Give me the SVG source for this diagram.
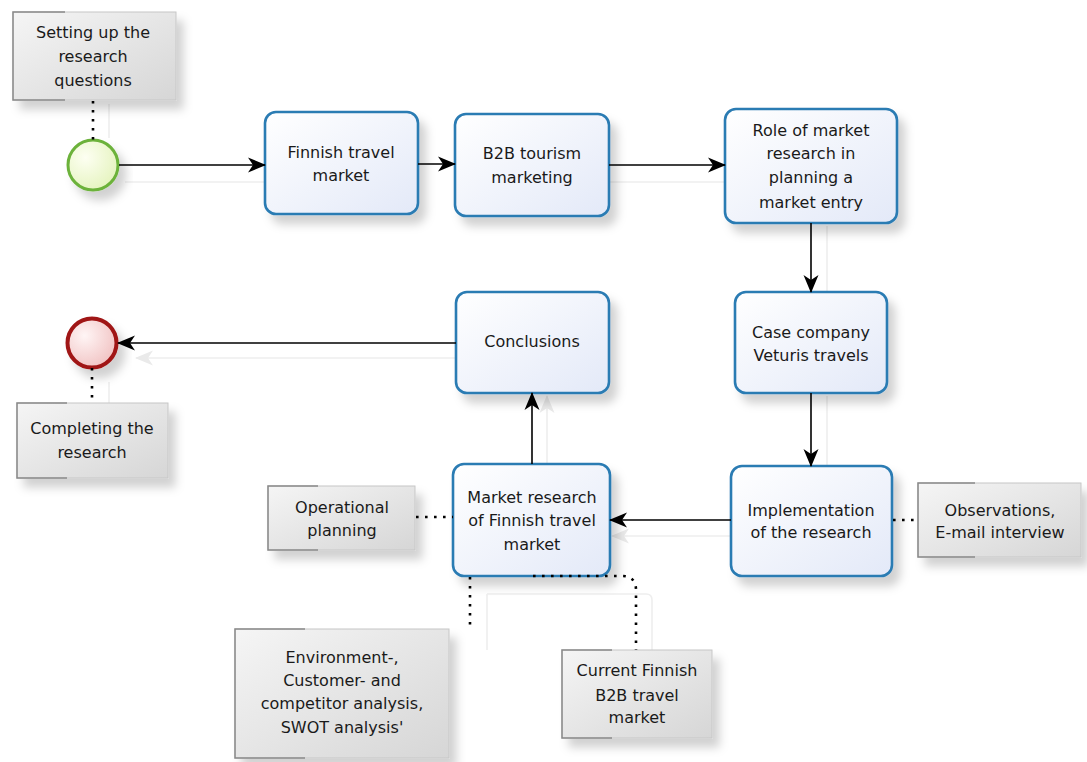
<svg xmlns="http://www.w3.org/2000/svg" width="1087" height="762" viewBox="0 0 1087 762">
<style>
text{font-family:"DejaVu Sans","Liberation Sans",sans-serif;font-size:16px;fill:#1a1a1a;text-anchor:middle}
.task{fill:url(#gTask);stroke:#2c7bb3;stroke-width:2.6;filter:url(#sh)}
.ann{fill:url(#gAnn);stroke:#c6c6c6;stroke-width:1;filter:url(#sh)}
.annl{fill:none;stroke:#8a8a8a;stroke-width:1.5}
.flow{fill:none;stroke:#000;stroke-width:1.6;marker-end:url(#arr)}
.ghost{fill:none;stroke:#eeeeee;stroke-width:1.6}
.assoc{fill:none;stroke:#000;stroke-width:2.6;stroke-dasharray:2.6 6.4}
</style>
<defs>
<linearGradient id="gTask" x1="0" y1="0" x2="1" y2="1"><stop offset="0" stop-color="#ffffff"/><stop offset="1" stop-color="#e3e9f8"/></linearGradient>
<linearGradient id="gAnn" x1="0" y1="0" x2="1" y2="1"><stop offset="0" stop-color="#f5f5f5"/><stop offset="1" stop-color="#d6d6d6"/></linearGradient>
<radialGradient id="gStart" cx="0.35" cy="0.35" r="0.8"><stop offset="0" stop-color="#fdfff2"/><stop offset="1" stop-color="#e2f2b8"/></radialGradient>
<radialGradient id="gEnd" cx="0.35" cy="0.35" r="0.8"><stop offset="0" stop-color="#fff5f5"/><stop offset="1" stop-color="#efbcbc"/></radialGradient>
<filter id="sh" x="-20%" y="-20%" width="150%" height="160%"><feDropShadow dx="7" dy="9" stdDeviation="5" flood-color="#000" flood-opacity="0.18"/></filter>
<marker id="arr" viewBox="0 0 18 16" refX="17" refY="8" markerWidth="18" markerHeight="16" markerUnits="userSpaceOnUse" orient="auto"><path d="M0,0.5 L18,8 L0,15.5 L5,8 z" fill="#000"/></marker>
<marker id="garr" viewBox="0 0 18 16" refX="17" refY="8" markerWidth="18" markerHeight="16" markerUnits="userSpaceOnUse" orient="auto"><path d="M0,0.5 L18,8 L0,15.5 L5,8 z" fill="#eaeaea"/></marker>
</defs>

<g id="ghosts">
<path class="ghost" d="M125,182 H265"/>
<path class="ghost" d="M609,182 H725"/>
<path class="ghost" d="M827,226 V292"/>
<path class="ghost" d="M827,396 V466"/>
<path class="ghost" d="M731,536 H612" marker-end="url(#garr)"/>
<path class="ghost" d="M547,464 V396" marker-end="url(#garr)"/>
<path class="ghost" d="M456,358 H136" marker-end="url(#garr)"/>
<path class="ghost" d="M109,104 V138"/>
<path class="ghost" d="M109,382 V403"/>
<path class="ghost" d="M487,594 V650"/>
<path class="ghost" d="M487,594 H646 Q652,594 652,600 V650"/>
</g>

<g id="start"><circle cx="93" cy="165" r="25" fill="url(#gStart)" stroke="#6cb23a" stroke-width="3" filter="url(#sh)"/></g>
<g id="end"><circle cx="92" cy="343" r="24.5" fill="url(#gEnd)" stroke="#a01414" stroke-width="4" filter="url(#sh)"/></g>

<g id="ann-setting">
<rect class="ann" x="13" y="12" width="163" height="88"/>
<path class="annl" d="M65,12 H13 V100 H65"/>
<text x="93" y="38">Setting up the</text><text x="93" y="62">research</text><text x="93" y="86">questions</text>
</g>

<g id="task-finnish">
<rect class="task" x="265" y="112" width="153" height="102" rx="11"/>
<text x="341" y="158">Finnish travel</text><text x="341" y="181">market</text>
</g>

<g id="task-b2b">
<rect class="task" x="455" y="114" width="154" height="102" rx="11"/>
<text x="532" y="159">B2B tourism</text><text x="532" y="183">marketing</text>
</g>

<g id="task-role">
<rect class="task" x="725" y="109" width="172" height="114" rx="11"/>
<text x="811" y="136">Role of market</text><text x="811" y="159">research in</text><text x="811" y="183">planning a</text><text x="811" y="208">market entry</text>
</g>

<g id="task-case">
<rect class="task" x="735" y="292" width="152" height="101" rx="11"/>
<text x="811" y="338">Case company</text><text x="811" y="361">Veturis travels</text>
</g>

<g id="task-conclusions">
<rect class="task" x="456" y="292" width="153" height="101" rx="11"/>
<text x="532" y="347">Conclusions</text>
</g>

<g id="task-implementation">
<rect class="task" x="731" y="466" width="161" height="110" rx="11"/>
<text x="811" y="516">Implementation</text><text x="811" y="538">of the research</text>
</g>

<g id="task-market-research">
<rect class="task" x="453" y="464" width="157" height="112" rx="11"/>
<text x="532" y="503">Market research</text><text x="532" y="526">of Finnish travel</text><text x="532" y="550">market</text>
</g>

<g id="ann-completing">
<rect class="ann" x="17" y="403" width="151" height="75"/>
<path class="annl" d="M67,403 H17 V478 H67"/>
<text x="92" y="434">Completing the</text><text x="92" y="458">research</text>
</g>

<g id="ann-operational">
<rect class="ann" x="268" y="486" width="147" height="64"/>
<path class="annl" d="M318,486 H268 V550 H318"/>
<text x="342" y="513">Operational</text><text x="342" y="536">planning</text>
</g>

<g id="ann-observations">
<rect class="ann" x="918" y="483" width="163" height="74"/>
<path class="annl" d="M975,483 H918 V557 H975"/>
<text x="1000" y="516">Observations,</text><text x="1000" y="538">E-mail interview</text>
</g>

<g id="ann-environment">
<rect class="ann" x="235" y="629" width="214" height="129"/>
<path class="annl" d="M305,629 H235 V758 H305"/>
<text x="342" y="663">Environment-,</text><text x="342" y="686">Customer- and</text><text x="342" y="709">competitor analysis,</text><text x="342" y="733">SWOT analysis'</text>
</g>

<g id="ann-current">
<rect class="ann" x="562" y="650" width="150" height="88"/>
<path class="annl" d="M612,650 H562 V738 H612"/>
<text x="637" y="676">Current Finnish</text><text x="637" y="701">B2B travel</text><text x="637" y="723">market</text>
</g>

<g id="connectors">
<path class="flow" d="M119,165 H265"/>
<path class="flow" d="M418,164 H455"/>
<path class="flow" d="M609,165 H725"/>
<path class="flow" d="M811,223 V292"/>
<path class="flow" d="M811,393 V466"/>
<path class="flow" d="M731,520 H610"/>
<path class="flow" d="M532,464 V393"/>
<path class="flow" d="M456,343 H118"/>
<path class="assoc" d="M93,101 V140"/>
<path class="assoc" d="M92,368 V403"/>
<path class="assoc" d="M416,517 H453"/>
<path class="assoc" d="M893,520 H918"/>
<path class="assoc" d="M470,577 V629"/>
<path class="assoc" d="M533,576 H622 Q636,576 636,590 V650"/>
</g>
</svg>
